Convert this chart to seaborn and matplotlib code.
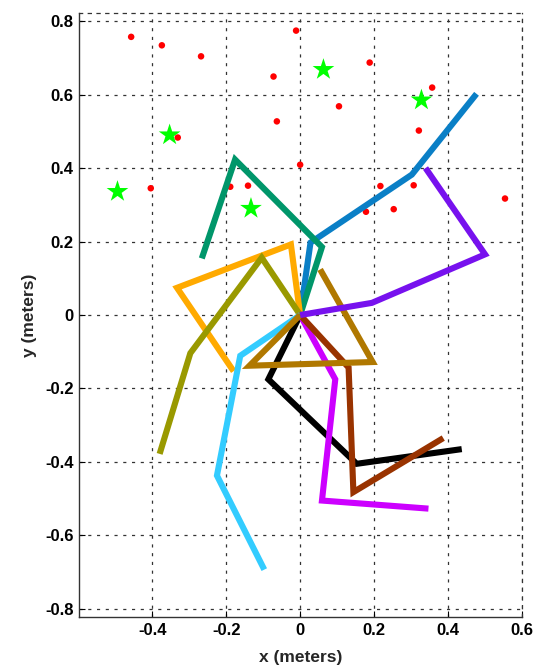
import numpy as np
import pandas as pd
import matplotlib
matplotlib.use("Agg")
import matplotlib.pyplot as plt
import seaborn as sns

# ---- data ----
arm_names = ["blue", "green", "orange", "olive", "cyan", "black", "magenta", "brown", "gold", "purple"]
arm_x = [
    [0.0, 0.028, 0.302, 0.477],
    [0.0, 0.059, -0.176, -0.266],
    [0.0, -0.025, -0.333, -0.180],
    [0.0, -0.104, -0.297, -0.380],
    [0.0, -0.162, -0.225, -0.097],
    [0.0, -0.086, 0.153, 0.437],
    [0.0, 0.095, 0.059, 0.347],
    [0.0, 0.131, 0.144, 0.387],
    [0.0, -0.137, 0.196, 0.054],
    [0.0, 0.194, 0.500, 0.339],
]
arm_y = [
    [0.0, 0.197, 0.382, 0.602],
    [0.0, 0.185, 0.423, 0.154],
    [0.0, 0.192, 0.074, -0.153],
    [0.0, 0.156, -0.104, -0.378],
    [0.0, -0.111, -0.437, -0.693],
    [0.0, -0.175, -0.405, -0.365],
    [0.0, -0.175, -0.505, -0.527],
    [0.0, -0.143, -0.482, -0.335],
    [0.0, -0.138, -0.128, 0.124],
    [0.0, 0.033, 0.165, 0.400],
]
arm_colors = ["#0A7FC6", "#00966A", "#FFAA00", "#999900", "#33CCFF",
              "#000000", "#CC00FF", "#993300", "#B07800", "#7711EE"]

dots_x = [-0.457, -0.374, -0.268, -0.011, -0.072, -0.063, -0.331, 0.000, -0.404, -0.189,
          -0.141, 0.188, 0.105, 0.357, 0.321, 0.217, 0.307, 0.178, 0.253, 0.554]
dots_y = [0.757, 0.734, 0.704, 0.774, 0.649, 0.527, 0.483, 0.409, 0.345, 0.349,
          0.352, 0.687, 0.568, 0.619, 0.502, 0.351, 0.353, 0.281, 0.288, 0.317]

stars_x = [-0.353, -0.494, -0.133, 0.063, 0.328]
stars_y = [0.490, 0.336, 0.290, 0.668, 0.585]

x_ticks = [-0.4, -0.2, 0, 0.2, 0.4, 0.6]
x_tick_labels = ["-0.4", "-0.2", "0", "0.2", "0.4", "0.6"]
y_ticks = [-0.8, -0.6, -0.4, -0.2, 0, 0.2, 0.4, 0.6, 0.8]
y_tick_labels = ["-0.8", "-0.6", "-0.4", "-0.2", "0", "0.2", "0.4", "0.6", "0.8"]

# ---- build tables ----
rows = []
for name, xs, ys in zip(arm_names, arm_x, arm_y):
    for i, (xv, yv) in enumerate(zip(xs, ys)):
        rows.append({"arm": name, "idx": i, "x": xv, "y": yv})
arms = pd.DataFrame(rows)
dots = pd.DataFrame({"x": dots_x, "y": dots_y})
stars = pd.DataFrame({"x": stars_x, "y": stars_y})

sns.set_theme(style="white")
plt.rcParams["font.family"] = ["Liberation Sans", "DejaVu Sans"]
plt.rcParams["font.weight"] = "bold"

fig = plt.figure(figsize=(5.39, 6.69), dpi=100)
ax = fig.add_axes([0.1466, 0.0777, 0.9685 - 0.1466, 0.9806 - 0.0777])

sns.scatterplot(data=dots, x="x", y="y", color="#FF0000", s=22, edgecolor="none",
                ax=ax, zorder=3, legend=False)
sns.scatterplot(data=stars, x="x", y="y", color="#00FF00", marker="*", s=270,
                edgecolor="none", ax=ax, zorder=3, legend=False)
sns.lineplot(data=arms, x="x", y="y", hue="arm", hue_order=arm_names,
             palette=dict(zip(arm_names, arm_colors)), sort=False, estimator=None,
             units="arm", linewidth=4.4, ax=ax, legend=False, zorder=4)
for ln in ax.lines:
    ln.set_solid_capstyle("butt")
    ln.set_solid_joinstyle("miter")

ax.set_xlim(-0.598, 0.6)
ax.set_ylim(-0.822, 0.822)
ax.set_xticks(x_ticks)
ax.set_xticklabels(x_tick_labels)
ax.set_yticks(y_ticks)
ax.set_yticklabels(y_tick_labels)
ax.grid(True, color="#333333", linestyle=(0, (2.5, 4.5)), linewidth=0.9)
ax.set_axisbelow(True)

for side in ["left", "bottom"]:
    ax.spines[side].set_color("#333333")
    ax.spines[side].set_linewidth(1.0)
for side in ["top", "right"]:
    ax.spines[side].set_visible(True)
    ax.spines[side].set_color("#333333")
    ax.spines[side].set_linewidth(0.9)
    ax.spines[side].set_linestyle((0, (2.5, 4.5)))

ax.tick_params(axis="both", direction="in", length=4, width=0.8, colors="#000000",
               labelsize=12, pad=4, left=True, bottom=True)
for lab in ax.get_xticklabels() + ax.get_yticklabels():
    lab.set_fontweight("bold")

ax.set_xlabel("x (meters)", fontsize=12.5, fontweight="bold", labelpad=9)
ax.set_ylabel("y (meters)", fontsize=12.5, fontweight="bold", labelpad=6)

fig.savefig("out.png", dpi=100)
